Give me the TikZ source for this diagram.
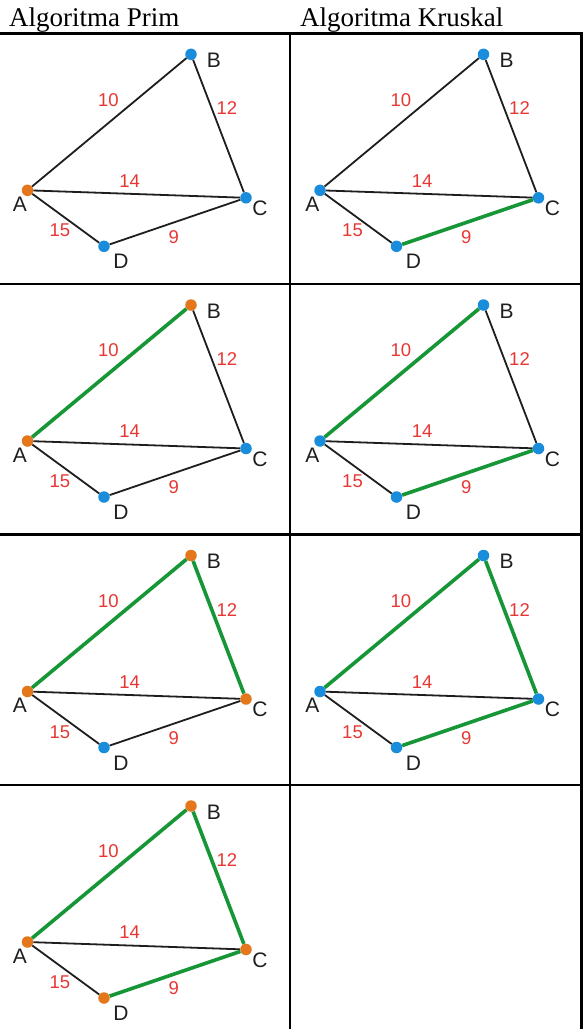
\documentclass[tikz,border=0pt]{standalone}
\usepackage{fontspec}
\setmainfont{Liberation Serif}
\newfontfamily\arialf{Liberation Sans}
\definecolor{orng}{RGB}{228,118,28}
\definecolor{blu}{RGB}{25,140,220}
\definecolor{grn}{RGB}{22,150,55}
\definecolor{lblred}{RGB}{232,55,50}
\definecolor{edgeblk}{RGB}{30,30,30}
\tikzset{
  dotnode/.style={circle,inner sep=0pt,minimum size=11.5pt},
  orangedot/.style={dotnode,fill=orng},
  bluedot/.style={dotnode,fill=blu},
  plainedge/.style={draw=edgeblk,line width=1.8pt},
  greenedge/.style={draw=grn,line width=3.6pt},
  vlabel/.style={font=\arialf\fontsize{21}{22}\selectfont,text=black!88,inner sep=0pt,text height=15pt,text depth=0pt},
  elabel/.style={font=\arialf\fontsize{18.5}{19}\selectfont,text=lblred,inner sep=0pt,text height=13.2pt,text depth=0pt},
  header/.style={font=\fontsize{27}{28}\selectfont,inner sep=0pt,anchor=base west},
  rule/.style={line width=2.4pt,draw=black}
}
% #1 prefix, #2 shift, #3 node/edge styles
\newcommand\graphcell[3]{%
\begin{scope}[shift={#2},#3]
  \node[cA] (#1A) at (27.5,157) {};
  \node[cB] (#1B) at (191,21) {};
  \node[cC] (#1C) at (246,164.5) {};
  \node[cD] (#1D) at (104,213) {};
  \draw[plainedge] (#1A) -- (#1C);
  \draw[plainedge] (#1A) -- (#1D);
  \draw[eAB] (#1A) -- (#1B);
  \draw[eBC] (#1B) -- (#1C);
  \draw[eCD] (#1C) -- (#1D);
  \node[vlabel] (#1lA) at (20,170.7) {A};
  \node[vlabel] (#1lB) at (214,26.7) {B};
  \node[vlabel] (#1lC) at (260,174.7) {C};
  \node[vlabel] (#1lD) at (121,228) {D};
  \node[elabel] (#1w10) at (108.3,66.3) {10};
  \node[elabel] (#1w12) at (227,75) {12};
  \node[elabel] (#1w14) at (129.7,147.3) {14};
  \node[elabel] (#1w15) at (60,197) {15};
  \node[elabel] (#1w9) at (173.7,203.3) {9};
\end{scope}}
\begin{document}
\begin{tikzpicture}[x=1pt,y=-1pt]
\useasboundingbox (0,0) rectangle (584,1029);
\fill[white] (0,0) rectangle (584,1029);
% header
\node[header] (hprim) at (9,26.7) {Algoritma Prim};
\node[header] (hkrus) at (300,26.7) {Algoritma Kruskal};
% table rules
\coordinate (r0l) at (0,33.3);    \coordinate (r0r) at (582.7,33.3);
\coordinate (r1l) at (0,284);     \coordinate (r1r) at (582.7,284);
\coordinate (r2l) at (0,534.5);   \coordinate (r2r) at (582.7,534.5);
\coordinate (r3l) at (0,785);     \coordinate (r3r) at (582.7,785);
\coordinate (dvt) at (290,32.1);  \coordinate (dvb) at (290,1029);
\coordinate (rbt) at (581.5,32.1);\coordinate (rbb) at (581.5,1029);
\draw[rule] (r0l) -- (r0r);
\draw[rule] (r1l) -- (r1r);
\draw[rule] (r2l) -- (r2r);
\draw[rule] (r3l) -- (r3r);
\draw[rule,line width=2.2pt] (dvt) -- (dvb);
\draw[rule,line width=2.2pt] (rbt) -- (rbb);
% Prim column
\graphcell{pa}{(0,33.3)}{cA/.style=orangedot,cB/.style=bluedot,cC/.style=bluedot,cD/.style=bluedot,eAB/.style=plainedge,eBC/.style=plainedge,eCD/.style=plainedge}
\graphcell{pb}{(0,284)}{cA/.style=orangedot,cB/.style=orangedot,cC/.style=bluedot,cD/.style=bluedot,eAB/.style=greenedge,eBC/.style=plainedge,eCD/.style=plainedge}
\graphcell{pc}{(0,534.5)}{cA/.style=orangedot,cB/.style=orangedot,cC/.style=orangedot,cD/.style=bluedot,eAB/.style=greenedge,eBC/.style=greenedge,eCD/.style=plainedge}
\graphcell{pd}{(0,785)}{cA/.style=orangedot,cB/.style=orangedot,cC/.style=orangedot,cD/.style=orangedot,eAB/.style=greenedge,eBC/.style=greenedge,eCD/.style=greenedge}
% Kruskal column
\graphcell{ka}{(292.5,33.3)}{cA/.style=bluedot,cB/.style=bluedot,cC/.style=bluedot,cD/.style=bluedot,eAB/.style=plainedge,eBC/.style=plainedge,eCD/.style=greenedge}
\graphcell{kb}{(292.5,284)}{cA/.style=bluedot,cB/.style=bluedot,cC/.style=bluedot,cD/.style=bluedot,eAB/.style=greenedge,eBC/.style=plainedge,eCD/.style=greenedge}
\graphcell{kc}{(292.5,534.5)}{cA/.style=bluedot,cB/.style=bluedot,cC/.style=bluedot,cD/.style=bluedot,eAB/.style=greenedge,eBC/.style=greenedge,eCD/.style=greenedge}
\end{tikzpicture}
\end{document}
